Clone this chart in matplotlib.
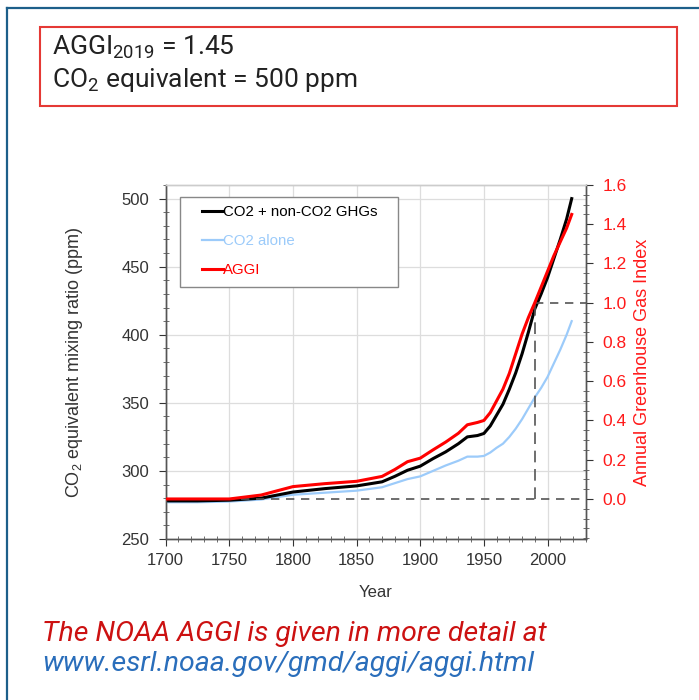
import numpy as np
import matplotlib
matplotlib.use('Agg')
import matplotlib.pyplot as plt
from matplotlib.patches import Rectangle
from matplotlib.lines import Line2D
from matplotlib.ticker import MultipleLocator, FormatStrFormatter

plt.rcParams['font.family'] = ['Liberation Sans', 'DejaVu Sans']
plt.rcParams['mathtext.default'] = 'regular'

years = [1700, 1725, 1750, 1775, 1800, 1825, 1850, 1870, 1880, 1890, 1900, 1910,
         1920, 1930, 1937, 1945, 1950, 1955, 1960, 1965, 1970, 1975, 1980, 1985,
         1990, 1995, 2000, 2005, 2010, 2015, 2019]
co2eq = [278, 278, 278.5, 280, 284.5, 287, 289, 292, 296, 300.5, 303.5, 309,
         314, 320, 325, 326, 327.5, 333, 341, 349, 360, 372, 386, 402,
         419, 430, 442, 456, 470, 485, 500]
co2 = [277, 277, 277.5, 279, 282.5, 284, 285.5, 288, 291, 294, 296, 300,
       304, 307.5, 310.5, 310.5, 311, 313.5, 317, 320, 325, 331, 338, 346,
       354, 361, 369, 379, 389, 400, 410]
aggi = [0, 0, 0, 0.02, 0.063, 0.078, 0.09, 0.115, 0.15, 0.19, 0.208, 0.25,
        0.29, 0.335, 0.378, 0.39, 0.40, 0.44, 0.5, 0.56, 0.64, 0.74, 0.84, 0.925,
        1.0, 1.08, 1.16, 1.24, 1.31, 1.38, 1.45]

ref_year = 1990

fig = plt.figure(figsize=(6.99, 7.0), dpi=100)

# frame lines (left and top)
fig.add_artist(Line2D([7/699, 7/699], [0, 1 - 8/700], color='#1d5f8a', lw=1.6))
fig.add_artist(Line2D([7/699, 1], [1 - 8/700, 1 - 8/700], color='#1d5f8a', lw=1.6))

# header box
fig.add_artist(Rectangle((40/699, 1 - 106/700), 637/699, 79/700, transform=fig.transFigure,
                         fill=False, edgecolor='#e53935', lw=1.5))
fig.text(52/699, 1 - 47/700, r'AGGI$_{2019}$ = 1.45', fontsize=19, family='Roboto',
         va='center', color='#222222')
fig.text(52/699, 1 - 80/700, r'CO$_2$ equivalent = 500 ppm', fontsize=19, family='Roboto',
         va='center', color='#222222')

ax = fig.add_axes([165.7/699, 1 - 539/700, 420/699, 354/700])
ax2 = ax.twinx()

ax.plot(years, co2, color='#9ccbfa', lw=1.6, zorder=3)
ax.plot(years, co2eq, color='black', lw=2.2, zorder=4)
ax2.plot(years, aggi, color='#ff0000', lw=2.2, zorder=5)

ax2.plot([1700, 2030], [0, 0], color='#555555', lw=1.2, ls=(0, (5, 4)))
ax2.plot([ref_year, ref_year], [0, 1.0], color='#555555', lw=1.2, ls=(0, (7, 4)))
ax2.plot([ref_year, 2030], [1.0, 1.0], color='#555555', lw=1.2, ls=(0, (5, 4)))

ax.set_xlim(1700, 2030)
ax.set_ylim(250, 510)
ax2.set_ylim(-0.204, 1.6)

ax.xaxis.set_major_locator(MultipleLocator(50))
ax.xaxis.set_minor_locator(MultipleLocator(10))
ax.yaxis.set_major_locator(MultipleLocator(50))
ax.yaxis.set_minor_locator(MultipleLocator(10))
ax2.set_yticks(np.arange(0, 1.61, 0.2))
ax2.yaxis.set_minor_locator(MultipleLocator(0.05))
ax2.yaxis.set_major_formatter(FormatStrFormatter('%.1f'))

ax.grid(True, which='major', color='#dddddd', lw=0.9)
ax.set_axisbelow(True)

ax.tick_params(which='major', direction='out', length=5, labelsize=12, colors='#333333')
ax.tick_params(which='minor', direction='inout', length=4, colors='#555555')
ax.tick_params(axis='x', pad=5)
ax.tick_params(axis='y', pad=7)
ax2.tick_params(which='major', direction='out', length=5, labelsize=12.5, pad=7,
                colors='#333333', labelcolor='#ff1a1a')
ax2.tick_params(which='minor', direction='inout', length=4, colors='#555555')
ax.tick_params(top=False, which='both')

for a in (ax, ax2):
    for s in a.spines.values():
        s.set_color('#555555')
        s.set_linewidth(1.0)
    a.spines['top'].set_color('#cccccc')

ax.set_xlabel('Year', fontsize=12, labelpad=12, color='#333333')
ax.set_ylabel(r'CO$_2$ equivalent mixing ratio (ppm)', fontsize=13, labelpad=26, color='#333333')
ax2.set_ylabel('Annual Greenhouse Gas Index', fontsize=13, color='#ff1a1a', labelpad=5)

# legend: frame drawn separately, entries placed inside
ax2.add_patch(Rectangle((0.034, 0.712), 0.519, 0.254, transform=ax2.transAxes,
                        facecolor='white', edgecolor='#888888', lw=1.0, zorder=6))
handles = [Line2D([], [], color='black', lw=2.2),
           Line2D([], [], color='#9ccbfa', lw=1.6),
           Line2D([], [], color='#ff0000', lw=2.2)]
labels = ['CO2 + non-CO2 GHGs', 'CO2 alone', 'AGGI']
leg = ax2.legend(handles, labels, loc='upper left', bbox_to_anchor=(0.0864, 0.944),
                 fontsize=10.8, handlelength=1.4, handletextpad=0.0, labelspacing=1.0,
                 borderpad=0, borderaxespad=0, frameon=False)
leg.set_zorder(7)
for t, c in zip(leg.get_texts(), ['black', '#9ccbfa', '#ff0000']):
    t.set_color(c)

fig.text(42/699, 1 - 634/700, 'The NOAA AGGI is given in more detail at', fontsize=20.5,
         family='Roboto', style='italic', color='#cc1111', va='center')
fig.text(42/699, 1 - 664/700, 'www.esrl.noaa.gov/gmd/aggi/aggi.html', fontsize=20.5,
         family='Roboto', style='italic', color='#2a6ebb', va='center')

fig.savefig('out.png', dpi=100)
